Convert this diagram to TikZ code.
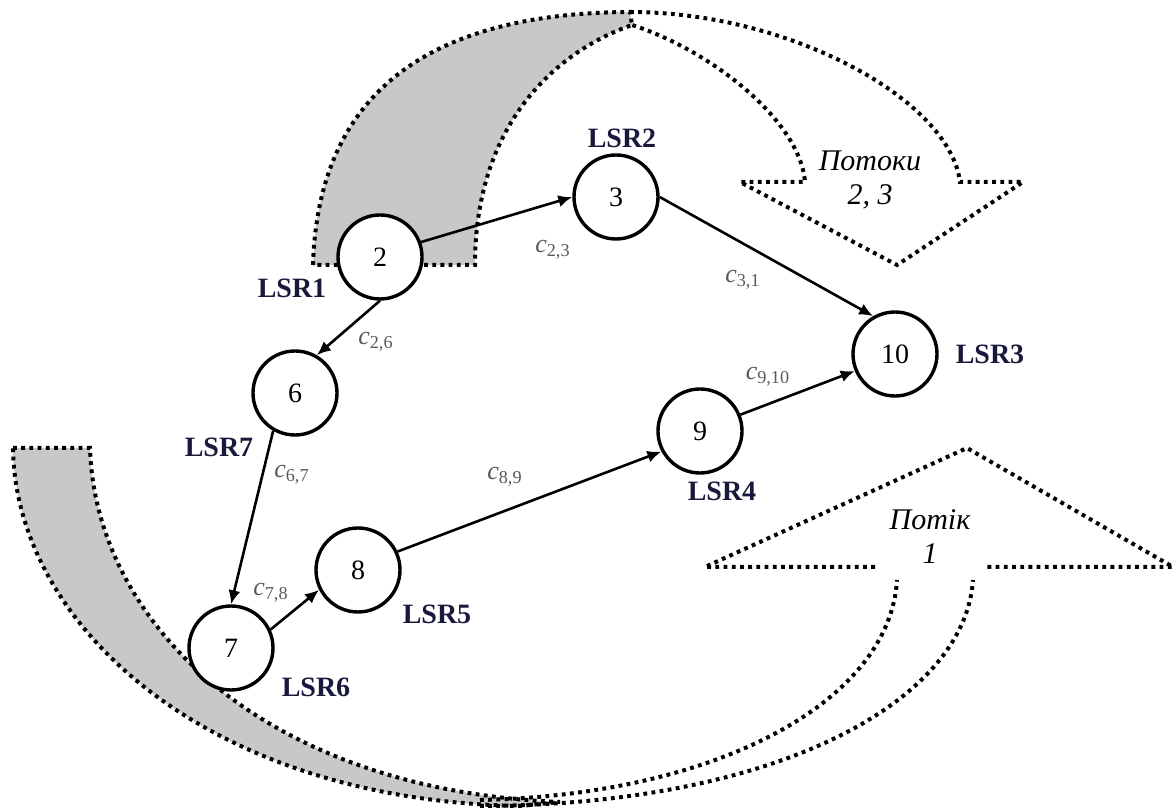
\documentclass[tikz,border=0pt]{standalone}
\usepackage{fontspec}
\setmainfont{Liberation Serif}
\usepackage{tikz}
\usetikzlibrary{arrows.meta}
\usetikzlibrary{calc}
\definecolor{lsrblue}{RGB}{25,25,60}
\definecolor{hattergrey}{RGB}{200,200,200}
\tikzset{
router/.style={circle, draw=black, line width=1.7pt, fill=white, minimum size=42pt, inner sep=0pt, font=\fontsize{14}{16}\selectfont},
lsr/.style={font=\fontsize{14}{16}\selectfont\bfseries, text=lsrblue, inner sep=0pt},
ar/.style={font=\fontsize{13}{14}\selectfont, text=black!65, inner sep=0pt},
link/.style={line width=1.3pt, -{Latex[length=7pt,width=6pt]}},
folyam/.style={line width=2pt, dash pattern=on 1.9pt off 2.2pt},
folyamfelirat/.style={font=\fontsize{15}{17}\selectfont\itshape, align=center, inner sep=0pt}
}
\newcommand{\arcimke}[2]{{\itshape c}\textsubscript{#1,#2}}

\begin{document}
\begin{tikzpicture}[x=0.5pt,y=-0.5pt]
\useasboundingbox (0,0) rectangle (1174,812);

% Potoki 2, 3
\fill[hattergrey] (313,265) .. controls (318,100) and (420,13) .. (630,12) -- (632,25) .. controls (560,50) and (475,120) .. (475,265) -- cycle;
\draw[folyam] (313,265) .. controls (318,100) and (420,13) .. (630,12) -- (632,25) .. controls (560,50) and (475,120) .. (475,265) -- cycle;
\draw[folyam] (630,12) .. controls (790,12) and (950,100) .. (960,182) -- (1023,182) -- (897,265) -- (740,182) -- (805,182) .. controls (800,120) and (710,50) .. (632,25);
\node[folyamfelirat] (f23) at (870,180) {Потоки\\2, 3};

% Potik 1
\fill[hattergrey] (13,448) -- (90,448) .. controls (95,620) and (260,790) .. (560,802) -- (520,806) .. controls (200,800) and (15,620) .. (13,448) -- cycle;
\draw[folyam] (13,448) -- (90,448) .. controls (95,620) and (260,790) .. (560,802) -- (520,806) .. controls (200,800) and (15,620) .. (13,448) -- cycle;
\draw[folyam] (480,800) .. controls (720,795) and (890,700) .. (897,580);
\draw[folyam] (480,806) .. controls (780,805) and (965,700) .. (973,580);
\draw[folyam] (875,567) -- (705,567) -- (967,448) -- (1173,567) -- (987,567);
\node[folyamfelirat] (f1) at (930,537) {Потік\\1};

\node[router] (r2) at (380,257) {2};
\node[router] (r3) at (616,197) {3};
\node[router] (r10) at (895,354) {10};
\node[router] (r6) at (295,393) {6};
\node[router] (r9) at (700,431) {9};
\node[router] (r8) at (358,570) {8};
\node[router] (r7) at (231,648) {7};

\node[lsr] (l1) at (292,288) {LSR1};
\node[lsr] (l2) at (622,138) {LSR2};
\node[lsr] (l3) at (990,354) {LSR3};
\node[lsr] (l4) at (722,491) {LSR4};
\node[lsr] (l5) at (437,614) {LSR5};
\node[lsr] (l6) at (316,687) {LSR6};
\node[lsr] (l7) at (219,447) {LSR7};

\draw[link] (r2.20) -- (r3.west);
\draw[link] (r3.east) -- (r10.120);
\draw[link] (r2.south) -- (r6.60);
\draw[link] (r6.240) -- (r7.north);
\draw[link] (r7.25) -- (r8.207);
\draw[link] (r8.25) -- (r9.208);
\draw[link] (r9.22) -- (r10.203);

\node[ar] (a23) at (553,250) {\arcimke{2}{3}};
\node[ar] (a31) at (743,280) {\arcimke{3}{1}};
\node[ar] (a26) at (376,342) {\arcimke{2}{6}};
\node[ar] (a67) at (292,475) {\arcimke{6}{7}};
\node[ar] (a78) at (271,593) {\arcimke{7}{8}};
\node[ar] (a89) at (505,477) {\arcimke{8}{9}};
\node[ar] (a910) at (768,377) {\arcimke{9}{10}};
%\node[ar] at (0,0) {};

\end{tikzpicture}
\end{document}
